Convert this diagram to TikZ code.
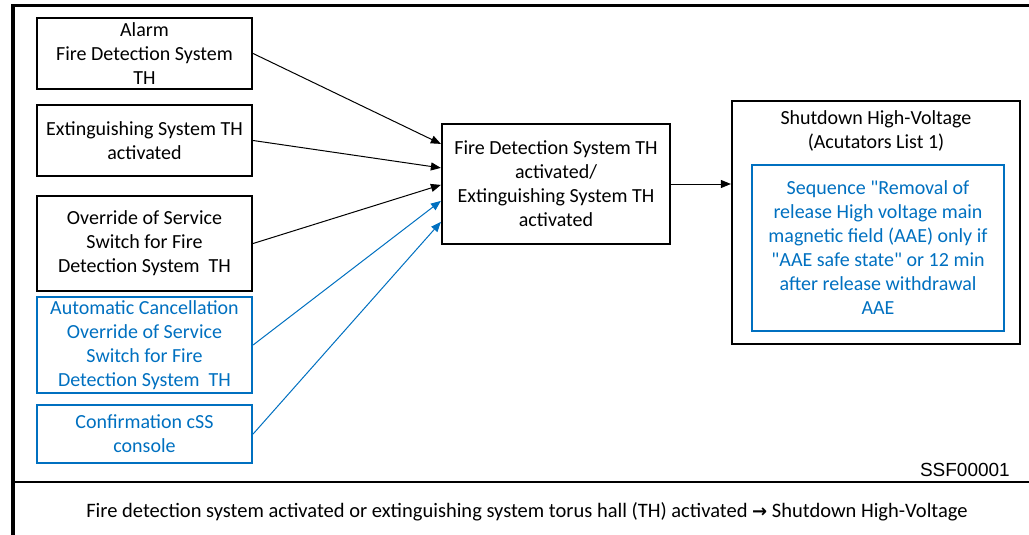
\documentclass[tikz,border=0pt]{standalone}
\usepackage{fontspec}
\setmainfont{Carlito}[Ligatures=TeXOff]
\newfontfamily\arialfont{Liberation Sans}
\newfontfamily\djv{DejaVu Sans}
\usetikzlibrary{arrows.meta,calc}
\definecolor{msblue}{RGB}{0,112,192}
\begin{document}
\begin{tikzpicture}[x=1pt,y=-1pt,
  every node/.style={font=\fontsize{20}{24}\selectfont,align=center},
  bbox/.style={draw=black,line width=2.2pt,rectangle,inner sep=0pt,align=center},
  bluebox/.style={draw=msblue,text=msblue,line width=2.2pt,rectangle,inner sep=0pt,align=center},
  conn/.style={line width=1pt,-{Triangle[length=10pt,width=8pt]}},
  bconn/.style={conn,draw=msblue,color=msblue}]
\useasboundingbox (0,0) rectangle (1029,535);
% frame
\draw[line width=3.5pt] (13,535) -- (13,5.5) -- (1035,5.5);
\draw[line width=2.5pt] (13,482) -- (1035,482);
% left boxes
\node[bbox,minimum width=215pt,minimum height=71pt] (b1) at (144.5,53.5) {Alarm\\Fire Detection System\\TH};
\node[bbox,minimum width=215pt,minimum height=71pt] (b2) at (144.5,140.5) {Extinguishing System TH\\activated};
\node[bbox,minimum width=215pt,minimum height=95pt] (b3) at (144.5,243.5) {Override of Service\\Switch for Fire\\Detection System\ \ TH};
\node[bluebox,minimum width=215pt,minimum height=96pt] (b4) at (144.5,345) {Automatic Cancellation\\Override of Service\\Switch for Fire\\Detection System\ \ TH};
\node[bluebox,minimum width=215pt,minimum height=58pt] (b5) at (144.5,434) {Confirmation cSS\\console};
% middle
\node[bbox,minimum width=228pt,minimum height=120pt] (mid) at (556,184) {Fire Detection System TH\\activated/\\Extinguishing System TH\\activated};
% right
\node[bbox,minimum width=288pt,minimum height=243pt] (right) at (876,222.5) {};
\node (rtitle) at (876,131) {Shutdown High-Voltage\\(Acutators List 1)};
\node[bluebox,minimum width=252pt,minimum height=166pt] (inner) at (878,248) {Sequence "Removal of\\release High voltage main\\magnetic field (AAE) only if\\"AAE safe state" or 12 min\\after release withdrawal\\AAE};
% connectors
\draw[conn] (b1.east) -- ($(mid.north west)+(0,21)$);
\draw[conn] (b2.east) -- ($(mid.north west)+(0,45)$);
\draw[conn] (b3.east) -- ($(mid.north west)+(0,62)$);
\draw[bconn] (b4.east) -- ($(mid.north west)+(0,78)$);
\draw[bconn] (b5.east) -- ($(mid.north west)+(0,99)$);
\draw[conn] (mid.east) -- (right.west |- mid.east);
% labels
\node[anchor=south east,font=\arialfont\fontsize{19}{22}\selectfont,inner sep=0pt] (ssf) at (1010,477) {SSF00001};
\node[font=\fontsize{20.5}{24}\selectfont] (cap) at (527,512) {Fire detection system activated or extinguishing system torus hall (TH) activated {\djv\bfseries\fontsize{18}{20}\selectfont →} Shutdown High-Voltage};
\end{tikzpicture}
\end{document}
